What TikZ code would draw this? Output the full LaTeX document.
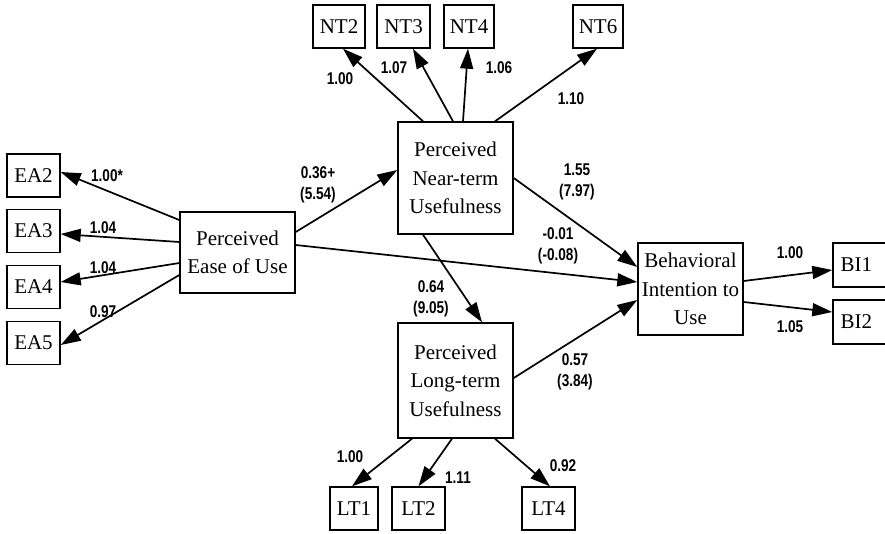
\documentclass[tikz,border=0pt]{standalone}
\usepackage{fontspec}
\setmainfont{Liberation Serif}
\newfontfamily\numfont[FakeStretch=0.8]{Liberation Sans}
\usetikzlibrary{arrows.meta}

\tikzset{
  box/.style={draw, line width=1.4pt, inner sep=0pt, align=center,
    font=\fontsize{21}{28.5}\selectfont},
  ind/.style={box, minimum height=43pt},
  arr/.style={line width=1.7pt, -{Triangle[length=20pt,width=13pt]}},
  num/.style={inner sep=0pt, align=center, font=\numfont\bfseries\fontsize{17}{20.5}\selectfont}
}

\begin{document}
\begin{tikzpicture}[x=1pt,y=-1pt]
\useasboundingbox (0,0) rectangle (885,533);

% latent constructs
\node[box, minimum width=115pt, minimum height=81pt]  (ease) at (237.5,252.5) {Perceived\\Ease of Use};
\node[box, minimum width=115pt, minimum height=112pt] (near) at (455.5,178)   {Perceived\\Near-term\\Usefulness};
\node[box, minimum width=115pt, minimum height=115pt] (long) at (455.5,380.5) {Perceived\\Long-term\\Usefulness};
\node[box, minimum width=105pt, minimum height=92pt]  (bi)   at (690.5,289)   {Behavioral\\Intention to\\Use};

% indicators
\node[ind, minimum width=53pt] (ea2) at (33.5,175.5) {EA2};
\node[ind, minimum width=53pt] (ea3) at (33.5,231)   {EA3};
\node[ind, minimum width=53pt] (ea4) at (33.5,287)   {EA4};
\node[ind, minimum width=53pt] (ea5) at (33.5,343)   {EA5};

\node[ind, minimum width=52pt] (nt2) at (339,26.5)   {NT2};
\node[ind, minimum width=53pt] (nt3) at (403.5,26.5) {NT3};
\node[ind, minimum width=50pt] (nt4) at (469,26.5)   {NT4};
\node[ind, minimum width=50pt] (nt6) at (598,26.5)   {NT6};

\node[ind, minimum width=48pt] (lt1) at (354,508.5)   {LT1};
\node[ind, minimum width=53pt] (lt2) at (418.5,508.5) {LT2};
\node[ind, minimum width=53pt] (lt4) at (548.5,508.5) {LT4};

\node[ind, minimum width=55pt, minimum height=44pt, text width=50pt, align=left] (bi1) at (860.5,265) {\hspace*{5pt}BI1};
\node[ind, minimum width=55pt, minimum height=44pt, text width=50pt, align=left] (bi2) at (860.5,322) {\hspace*{5pt}BI2};

% ease of use loadings
\draw[arr] ([yshift=32.5pt]ease.west)  -- ([yshift=3.5pt]ea2.east);
\draw[arr] ([yshift=10.5pt]ease.west)  -- ([yshift=-3pt]ea3.east);
\draw[arr] ([yshift=-10.5pt]ease.west) -- ([yshift=5pt]ea4.east);
\draw[arr] ([yshift=-22.5pt]ease.west) -- ([yshift=-2pt]ea5.east);

% near-term loadings
\draw[arr] ([xshift=-32.5pt]near.north) -- ([xshift=4pt]nt2.south);
\draw[arr] ([xshift=-2.5pt]near.north)  -- ([xshift=9.5pt]nt3.south);
\draw[arr] ([xshift=7.5pt]near.north)   -- ([xshift=-1pt]nt4.south);
\draw[arr] ([xshift=39.5pt]near.north)  -- ([xshift=-1pt]nt6.south);

% long-term loadings
\draw[arr] ([xshift=-43.5pt]long.south) -- ([xshift=-2pt]lt1.north);
\draw[arr] ([xshift=-3.5pt]long.south)  -- ([xshift=0pt]lt2.north);
\draw[arr] ([xshift=39.5pt]long.south)  -- ([xshift=1.5pt]lt4.north);

% intention loadings
\draw[arr] ([yshift=8pt]bi.east)   -- ([yshift=-5pt]bi1.west);
\draw[arr] ([yshift=-13pt]bi.east) -- ([yshift=10pt]bi2.west);

% structural paths
\draw[arr] ([yshift=20.5pt]ease.east) -- ([yshift=8pt]near.west);
\draw[arr] ([yshift=7.5pt]ease.east)  -- ([yshift=7pt]bi.west);
\draw[arr] (near.east)                -- ([yshift=22pt]bi.west);
\draw[arr] ([xshift=-32.5pt]near.south) -- ([xshift=26.5pt]long.north);
\draw[arr] ([yshift=2.5pt]long.east)  -- ([yshift=-11pt]bi.west);

% coefficient labels
\node[num] (lea2) at (107,176) {1.00*};
\node[num] (lea3) at (103,228) {1.04};
\node[num] (lea4) at (103,268) {1.04};
\node[num] (lea5) at (103,312) {0.97};

\node[num] (lnt2) at (340,79) {1.00};
\node[num] (lnt3) at (394,68) {1.07};
\node[num] (lnt4) at (499,68) {1.06};
\node[num] (lnt6) at (571,99) {1.10};

\node[num] (llt1) at (350,457) {1.00};
\node[num] (llt2) at (458,478) {1.11};
\node[num] (llt4) at (563,466) {0.92};

\node[num] (lbi1) at (790,253) {1.00};
\node[num] (lbi2) at (790,327) {1.05};

\node[num] (pen)  at (318,185) {0.36+\\(5.54)};
\node[num] (peb)  at (558,246) {-0.01\\(-0.08)};
\node[num] (pnb)  at (577,182) {1.55\\(7.97)};
\node[num] (pnl)  at (431,299) {0.64\\(9.05)};
\node[num] (plb)  at (575,372) {0.57\\(3.84)};
\end{tikzpicture}
\end{document}
